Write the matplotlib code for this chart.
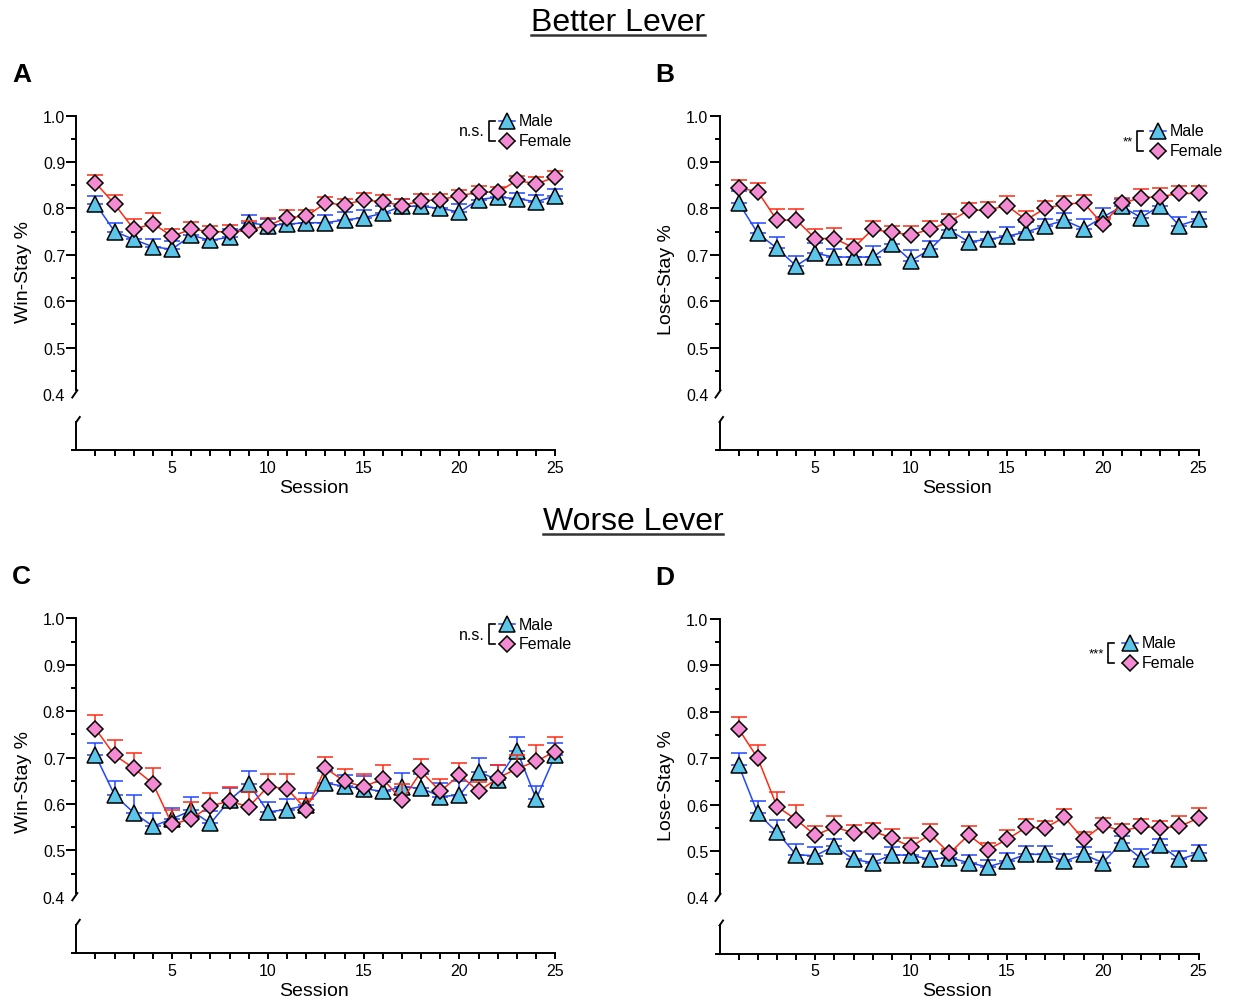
import numpy as np
import matplotlib
matplotlib.use('Agg')
import matplotlib.pyplot as plt
from matplotlib.lines import Line2D

plt.rcParams['font.family'] = ['Liberation Sans', 'DejaVu Sans']

sessions = list(range(1, 26))

# ---- A: Better lever, win-stay
a_male = [0.810, 0.750, 0.733, 0.717, 0.712, 0.742, 0.731, 0.738, 0.769, 0.763, 0.766, 0.769, 0.769,
          0.775, 0.780, 0.789, 0.805, 0.804, 0.800, 0.792, 0.819, 0.824, 0.821, 0.814, 0.827]
a_male_sem = [0.017, 0.019, 0.022, 0.016, 0.018, 0.013, 0.018, 0.017, 0.016, 0.015, 0.015, 0.014, 0.017,
              0.018, 0.016, 0.016, 0.016, 0.015, 0.015, 0.017, 0.012, 0.012, 0.013, 0.015, 0.014]
a_female = [0.855, 0.809, 0.755, 0.767, 0.740, 0.755, 0.750, 0.749, 0.753, 0.763, 0.780, 0.783, 0.811,
            0.808, 0.818, 0.814, 0.806, 0.816, 0.819, 0.827, 0.835, 0.835, 0.860, 0.853, 0.867]
a_female_sem = [0.016, 0.020, 0.021, 0.022, 0.015, 0.016, 0.013, 0.015, 0.020, 0.017, 0.016, 0.013, 0.013,
                0.013, 0.014, 0.014, 0.014, 0.014, 0.012, 0.012, 0.013, 0.010, 0.010, 0.014, 0.013]

# ---- B: Better lever, lose-stay
b_male = [0.812, 0.746, 0.714, 0.676, 0.703, 0.695, 0.695, 0.695, 0.724, 0.687, 0.712, 0.753, 0.728,
          0.733, 0.740, 0.749, 0.762, 0.774, 0.756, 0.781, 0.804, 0.780, 0.806, 0.763, 0.776]
b_male_sem = [0.025, 0.023, 0.024, 0.021, 0.022, 0.018, 0.020, 0.024, 0.025, 0.023, 0.018, 0.021, 0.022,
              0.017, 0.020, 0.021, 0.016, 0.015, 0.022, 0.020, 0.017, 0.014, 0.017, 0.019, 0.017]
b_female = [0.844, 0.836, 0.774, 0.775, 0.735, 0.735, 0.715, 0.755, 0.748, 0.743, 0.755, 0.771, 0.796,
            0.796, 0.806, 0.775, 0.800, 0.809, 0.812, 0.766, 0.811, 0.823, 0.825, 0.832, 0.832]
b_female_sem = [0.016, 0.019, 0.024, 0.023, 0.020, 0.023, 0.018, 0.018, 0.015, 0.020, 0.018, 0.016, 0.016,
                0.018, 0.021, 0.019, 0.016, 0.018, 0.017, 0.011, 0.012, 0.019, 0.019, 0.017, 0.017]

# ---- C: Worse lever, win-stay
c_male = [0.705, 0.619, 0.581, 0.552, 0.568, 0.586, 0.558, 0.608, 0.644, 0.583, 0.588, 0.597, 0.645,
          0.638, 0.633, 0.627, 0.637, 0.634, 0.616, 0.619, 0.669, 0.652, 0.715, 0.611, 0.705]
c_male_sem = [0.027, 0.031, 0.038, 0.028, 0.024, 0.028, 0.027, 0.027, 0.026, 0.021, 0.023, 0.027, 0.025,
              0.024, 0.027, 0.020, 0.030, 0.030, 0.029, 0.031, 0.031, 0.031, 0.029, 0.027, 0.026]
c_female = [0.762, 0.705, 0.677, 0.644, 0.556, 0.568, 0.596, 0.606, 0.594, 0.637, 0.633, 0.588, 0.677,
            0.649, 0.637, 0.654, 0.608, 0.670, 0.627, 0.663, 0.627, 0.656, 0.676, 0.692, 0.713]
c_female_sem = [0.030, 0.032, 0.033, 0.033, 0.030, 0.036, 0.028, 0.031, 0.032, 0.028, 0.032, 0.023, 0.024,
                0.026, 0.027, 0.031, 0.036, 0.027, 0.027, 0.025, 0.020, 0.027, 0.029, 0.034, 0.031]

# ---- D: Worse lever, lose-stay
d_male = [0.685, 0.581, 0.541, 0.492, 0.490, 0.511, 0.482, 0.475, 0.492, 0.491, 0.482, 0.486, 0.475,
          0.466, 0.478, 0.493, 0.493, 0.478, 0.493, 0.475, 0.518, 0.484, 0.513, 0.482, 0.495]
d_male_sem = [0.027, 0.027, 0.027, 0.024, 0.019, 0.014, 0.018, 0.018, 0.017, 0.020, 0.018, 0.014, 0.016,
              0.014, 0.018, 0.017, 0.017, 0.015, 0.016, 0.022, 0.014, 0.020, 0.014, 0.018, 0.018]
d_female = [0.763, 0.700, 0.596, 0.568, 0.534, 0.552, 0.539, 0.543, 0.528, 0.509, 0.536, 0.495, 0.535,
            0.503, 0.525, 0.551, 0.550, 0.573, 0.525, 0.556, 0.543, 0.553, 0.550, 0.553, 0.571]
d_female_sem = [0.026, 0.029, 0.031, 0.031, 0.019, 0.024, 0.018, 0.018, 0.019, 0.019, 0.022, 0.010, 0.019,
                0.015, 0.020, 0.019, 0.015, 0.017, 0.016, 0.016, 0.015, 0.017, 0.015, 0.022, 0.022]

male_line = '#2147ff'
male_fill = '#5cc6ea'
female_line = '#ff2a14'
female_fill = '#f48ad2'

W, H = 1233, 1003
fig = plt.figure(figsize=(W / 100, H / 100), dpi=100)


def fx(px):
    return px / W


def fy(py):
    return 1 - py / H


def fline(xs, ys, **kw):
    fig.add_artist(Line2D([fx(v) for v in xs], [fy(v) for v in ys], transform=fig.transFigure, **kw))


def panel(x0, y_top, male, msem, fem, fsem, ylab, ylab_y, star, leg, letter):
    ppu = 19.16
    left = x0 - 0.2 * ppu
    right = x0 + 25 * ppu
    y_low = y_top + 278.5
    x_axis = y_top + 334.5
    ax = fig.add_axes([fx(left), fy(y_low), (right - left) / W, (y_low - y_top) / H])
    ax2 = fig.add_axes([fx(left), fy(x_axis), (right - left) / W, 33 / H])

    for a in (ax, ax2):
        a.set_xlim(-0.2, 25)
        a.patch.set_alpha(0)
        a.spines['top'].set_visible(False)
        a.spines['right'].set_visible(False)
        a.spines['left'].set_position(('data', 0))
        a.spines['left'].set_linewidth(1.4)
        a.spines['bottom'].set_linewidth(1.4)

    ax.spines['bottom'].set_visible(False)
    ax.set_ylim(0.4, 1.0)
    ax.spines['left'].set_bounds(0.408, 1.0)
    ax.set_xticks([])
    ax.set_yticks(np.arange(0.4, 1.01, 0.1))
    ax.set_yticks(np.arange(0.45, 1.0, 0.1), minor=True)
    ax.set_yticklabels(['%.1f' % v for v in np.arange(0.4, 1.01, 0.1)])
    ax.tick_params(axis='y', which='major', length=7, width=1.4, pad=1, labelsize=11.5)
    ax.tick_params(axis='y', which='minor', length=3.5, width=1.4)
    ax.yaxis.get_major_ticks()[0].tick1line.set_visible(False)

    eb = dict(fmt='none', elinewidth=1.1, capsize=6, capthick=1.1, clip_on=False)
    ax.errorbar(sessions, male, yerr=[np.zeros(len(male)), msem], ecolor=male_line, **eb)
    ax.plot(sessions, male, color=male_line, lw=1.1, marker='^', ms=11, mfc=male_fill,
            mec='black', mew=1.1, clip_on=False)
    ax.errorbar(sessions, fem, yerr=[np.zeros(len(fem)), fsem], ecolor=female_line, **eb)
    ax.plot(sessions, fem, color=female_line, lw=1.1, marker='D', ms=8, mfc=female_fill,
            mec='black', mew=1.1, clip_on=False)

    ax2.set_ylim(0, 1)
    ax2.spines['left'].set_bounds(0, 0.85)
    ax2.set_yticks([])
    ax2.set_xticks([5, 10, 15, 20, 25])
    ax2.set_xticks(range(1, 25), minor=True)
    ax2.tick_params(axis='x', which='both', length=4, width=1.4, pad=3, labelsize=11.5)
    ax2.set_xlabel('Session', fontsize=14, labelpad=3)

    # axis break marks
    fline([x0 + 1, x0 - 4], [y_low - 3.7, y_low + 3.5], color='black', lw=1.4)
    fline([x0, x0 + 3.5], [x_axis - 28, x_axis - 33], color='black', lw=1.4)

    fig.text(fx(x0 - 53), fy(ylab_y), ylab, rotation=90, fontsize=14, ha='center', va='center')
    fig.text(fx(x0 - 64), fy(y_top - 35), letter, fontsize=19, fontweight='bold', ha='left', va='baseline')

    # legend with significance bracket
    lx, ly, sx = leg
    fline([lx - 8, lx + 8], [ly, ly], color=male_line, lw=1.1)
    fline([lx], [ly], marker='^', ms=11, mfc=male_fill, mec='black', mew=1.1, color=male_line)
    fline([lx - 8, lx + 8], [ly + 19.5, ly + 19.5], color=female_line, lw=1.1)
    fline([lx], [ly + 19.5], marker='D', ms=8, mfc=female_fill, mec='black', mew=1.1, color=female_line)
    fig.text(fx(lx + 12), fy(ly), 'Male', fontsize=11.5, ha='left', va='center')
    fig.text(fx(lx + 12), fy(ly + 19.5), 'Female', fontsize=11.5, ha='left', va='center')
    fline([sx + 6, sx, sx, sx + 6], [ly, ly, ly + 19.5, ly + 19.5], color='black', lw=1.2)
    fig.text(fx(sx - 4), fy(ly + 10), star, fontsize=11.5 if star == 'n.s.' else 9.5,
             ha='right', va='center')


panel(76.3, 116.5, a_male, a_male_sem, a_female, a_female_sem, 'Win-Stay %', 272, 'n.s.', (507, 122, 489), 'A')
panel(719.5, 116.5, b_male, b_male_sem, b_female, b_female_sem, 'Lose-Stay %', 280, '**', (1158, 132, 1137), 'B')
panel(76.3, 619.3, c_male, c_male_sem, c_female, c_female_sem, 'Win-Stay %', 782, 'n.s.', (507, 625, 489), 'C')
panel(719.5, 620, d_male, d_male_sem, d_female, d_female_sem, 'Lose-Stay %', 786, '***', (1130, 644, 1108), 'D')

# section titles with underline
fig.canvas.draw()
renderer = fig.canvas.get_renderer()
for txt, cx, base in [('Better Lever', 618, 31), ('Worse Lever', 633, 530)]:
    t = fig.text(fx(cx), fy(base), txt, fontsize=23, ha='center', va='baseline')
    bb = t.get_window_extent(renderer)
    fline([bb.x0, bb.x1], [base + 5, base + 5], color='#333333', lw=1.8)

fig.savefig('out.png', dpi=100)
